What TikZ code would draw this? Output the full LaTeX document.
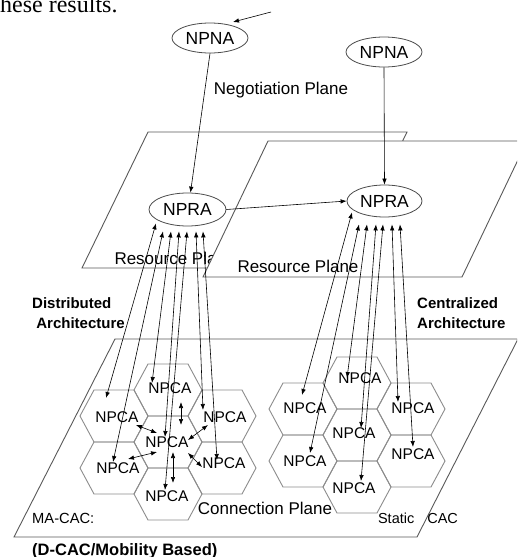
\documentclass[tikz,border=0pt]{standalone}
\usepackage{fontspec}
\setmainfont{Liberation Sans}
\newfontfamily\serifpart{Liberation Serif}
\usetikzlibrary{arrows.meta,shapes.geometric,calc}

\tikzset{
  agent/.style={ellipse,draw=black!70,line width=0.8pt,fill=white,inner sep=0pt,
    minimum width=76pt,minimum height=30pt,font=\fontsize{17.5}{20}\selectfont},
  plane/.style={draw=black!65,fill=white,line width=0.9pt},
  cell/.style={draw=black!45,line width=0.9pt},
  cellname/.style={inner sep=0pt,font=\fontsize{15.5}{18}\selectfont},
  tag/.style={inner sep=0pt,font=\fontsize{17}{20}\selectfont},
  archtag/.style={inner sep=0pt,align=left,font=\fontsize{15}{20}\bfseries\selectfont},
  link/.style={<->,line width=0.6pt},
}

\begin{document}
\begin{tikzpicture}[x=1pt,y=-1pt,>={Latex[length=6pt,width=4.5pt]}]
\useasboundingbox (0,0) rectangle (517,557);
\clip (0,0) rectangle (517,557);

\node[anchor=base west,inner sep=0pt,font=\serifpart\fontsize{24}{26}\selectfont] (txt) at (0,12) {hese results.};

% planes
\draw[plane] (148,132) -- (407,132) -- (341,268) -- (82,268) -- cycle;
\node[tag] (resD) at (175,258) {Resource Plane};
\draw[plane] (268,141) -- (527,141) -- (462,277) -- (203,277) -- cycle;
\node[tag] (resC) at (298,266) {Resource Plane};
\draw[plane] (115,339) -- (518,339) -- (417,537) -- (14,537) -- cycle;

\node[tag] (neg) at (281,90) {Negotiation Plane};
\node[tag] (conn) at (265,508) {Connection Plane};
\node[archtag,anchor=west] (dist) at (32,313) {Distributed\\\ Architecture};
\node[archtag,anchor=west] (cent) at (417,313) {Centralized\\Architecture};
\node[inner sep=0pt,anchor=west,font=\fontsize{14.7}{17}\selectfont] (macac) at (32,518) {MA-CAC:};
\node[inner sep=0pt,anchor=base west,font=\fontsize{16.5}{19}\bfseries\selectfont] (dcac) at (32,555) {(D-CAC/Mobility Based)};
\node[inner sep=0pt,font=\fontsize{14.5}{17}\selectfont] (stat) at (418,518) {Static\hspace{13pt}CAC};

% agents
\node[agent] (npnaD) at (210,38) {NPNA};
\node[agent] (npnaC) at (384,52) {NPNA};
\node[agent,minimum height=33pt,minimum width=77pt] (npraD) at (187.5,209.5) {NPRA};
\node[agent,minimum height=32pt,minimum width=75pt] (npraC) at (384.5,201) {NPRA};

% distributed cells
\draw[cell] (168,390) ++(-34,0) -- ++(14,-26) -- ++(40,0) -- ++(14,26) -- ++(-14,26) -- ++(-40,0) -- cycle;
\draw[cell] (168,442) ++(-34,0) -- ++(14,-26) -- ++(40,0) -- ++(14,26) -- ++(-14,26) -- ++(-40,0) -- cycle;
\draw[cell] (168,494) ++(-34,0) -- ++(14,-26) -- ++(40,0) -- ++(14,26) -- ++(-14,26) -- ++(-40,0) -- cycle;
\draw[cell] (114,416) ++(-34,0) -- ++(14,-26) -- ++(40,0) -- ++(14,26) -- ++(-14,26) -- ++(-40,0) -- cycle;
\draw[cell] (114,468) ++(-34,0) -- ++(14,-26) -- ++(40,0) -- ++(14,26) -- ++(-14,26) -- ++(-40,0) -- cycle;
\draw[cell] (222,416) ++(-34,0) -- ++(14,-26) -- ++(40,0) -- ++(14,26) -- ++(-14,26) -- ++(-40,0) -- cycle;
\draw[cell] (222,468) ++(-34,0) -- ++(14,-26) -- ++(40,0) -- ++(14,26) -- ++(-14,26) -- ++(-40,0) -- cycle;
\node[cellname] (dTop) at (170,388) {NPCA};
\node[cellname] (dC) at (167,442) {NPCA};
\node[cellname] (dBot) at (167,496) {NPCA};
\node[cellname] (dUL) at (117,417) {NPCA};
\node[cellname] (dLL) at (118,468) {NPCA};
\node[cellname] (dUR) at (225,417) {NPCA};
\node[cellname] (dLR) at (224,463) {NPCA};

% centralized cells
\draw[cell] (357,383) ++(-34,0) -- ++(14,-26) -- ++(40,0) -- ++(14,26) -- ++(-14,26) -- ++(-40,0) -- cycle;
\draw[cell] (357,435) ++(-34,0) -- ++(14,-26) -- ++(40,0) -- ++(14,26) -- ++(-14,26) -- ++(-40,0) -- cycle;
\draw[cell] (357,487) ++(-34,0) -- ++(14,-26) -- ++(40,0) -- ++(14,26) -- ++(-14,26) -- ++(-40,0) -- cycle;
\draw[cell] (303,409) ++(-34,0) -- ++(14,-26) -- ++(40,0) -- ++(14,26) -- ++(-14,26) -- ++(-40,0) -- cycle;
\draw[cell] (303,461) ++(-34,0) -- ++(14,-26) -- ++(40,0) -- ++(14,26) -- ++(-14,26) -- ++(-40,0) -- cycle;
\draw[cell] (411,409) ++(-34,0) -- ++(14,-26) -- ++(40,0) -- ++(14,26) -- ++(-14,26) -- ++(-40,0) -- cycle;
\draw[cell] (411,461) ++(-34,0) -- ++(14,-26) -- ++(40,0) -- ++(14,26) -- ++(-14,26) -- ++(-40,0) -- cycle;
\node[cellname] (cTop) at (360,378) {NPCA};
\node[cellname] (cC) at (354,433) {NPCA};
\node[cellname] (cBot) at (354,488) {NPCA};
\node[cellname] (cUL) at (305,408) {NPCA};
\node[cellname] (cLL) at (305,461) {NPCA};
\node[cellname] (cUR) at (413,408) {NPCA};
\node[cellname] (cLR) at (413,454) {NPCA};

% negotiation
\coordinate (src) at (271,12);
\draw[->,line width=0.6pt] (src) -- ($(npnaD)+(23,-16)$);
\draw[->,line width=0.6pt] (npnaD.south) -- (npraD.80);
\draw[->,line width=0.6pt] (npnaC.south) -- (npraC.north);
\draw[->,line width=0.6pt] (npraD.east) -- (npraC.west);

% distributed links
\draw[link] ($(npraD.south)+(-31.5,-3)$) -- (106,398);
\draw[link] ($(npraD.south)+(-24.5,5)$) -- (113,462);
\draw[link] ($(npraD.south)+(-16.5,5)$) -- (152,383);
\draw[link] ($(npraD.south)+(-8.5,5)$) -- (165,437);
\draw[link] ($(npraD.south)+(-0.5,5)$) -- (165,490);
\draw[link] ($(npraD.south)+(8.5,5)$) -- (203,410);
\draw[link] ($(npraD.south)+(15.5,5)$) -- (217,460);

% mobility links
\draw[link] (136,425) -- (157,433);
\draw[link] (128,459) -- (157,452);
\draw[link] (181,402) -- (181,425);
\draw[link] (188,440) -- (208,425);
\draw[link] (188,453) -- (202,467);
\draw[link] (173,452) -- (173,483);

% centralized links
\draw[link] ($(npraC.south)+(-32.5,-5)$) -- (302,395);
\draw[link] ($(npraC.south)+(-25.5,7)$) -- (310,453);
\draw[link] ($(npraC.south)+(-17.5,7)$) -- (347,378);
\draw[link] ($(npraC.south)+(-8.5,7)$) -- (361,428);
\draw[link] ($(npraC.south)+(-1.5,7)$) -- (361,481);
\draw[link] ($(npraC.south)+(7.5,7)$) -- (398,402);
\draw[link] ($(npraC.south)+(15.5,7)$) -- (413,447);
\end{tikzpicture}
\end{document}
